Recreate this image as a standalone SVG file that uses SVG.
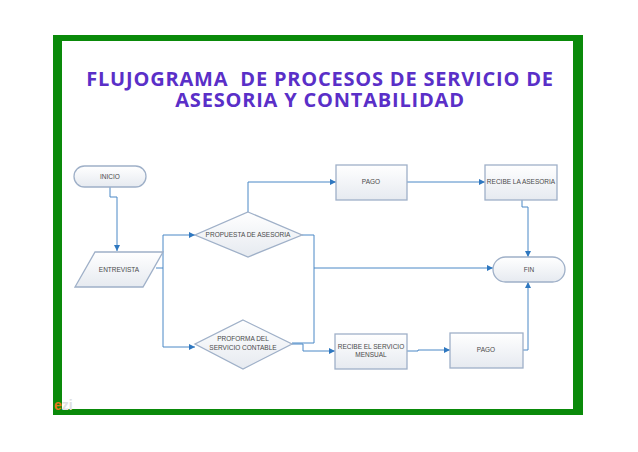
<svg xmlns="http://www.w3.org/2000/svg" width="638" height="452" viewBox="0 0 638 452">
<defs>
<linearGradient id="g" x1="0" y1="0" x2="0" y2="1"><stop offset="0" stop-color="#ffffff"/><stop offset="1" stop-color="#e6eaf0"/></linearGradient>
<marker id="a" viewBox="0 0 6 6" refX="6" refY="3" markerWidth="6" markerHeight="6" orient="auto" markerUnits="userSpaceOnUse"><path d="M0,0 L6,3 L0,6 Z" fill="#2f78c0"/></marker>
<style>
.n{fill:url(#g);stroke:#9fb0c8;stroke-width:1.3}
.t{font-family:"Liberation Sans",Arial,sans-serif;font-size:6.5px;fill:#4a4a4a;text-anchor:middle}
.c{fill:none;stroke:#4a88c6;stroke-width:1}
.h{font-family:"Open Sans","Liberation Sans",sans-serif;font-weight:bold;font-size:20px;letter-spacing:0.8px;fill:#5a2fc8;text-anchor:middle;white-space:pre}
</style>
</defs>
<rect width="638" height="452" fill="#ffffff"/>
<rect x="53" y="35" width="530" height="380" fill="#0a8a0a"/>
<rect x="62" y="41" width="511" height="368" fill="#ffffff"/>
<text class="h" x="320" y="86" xml:space="preserve">FLUJOGRAMA  DE PROCESOS DE SERVICIO DE</text>
<text class="h" x="320" y="107">ASESORIA Y CONTABILIDAD</text>

<g id="connectors">
<path class="c" d="M110,187 V197 H117 V251" marker-end="url(#a)"/>
<path class="c" d="M156,268 H163"/>
<path class="c" d="M163,235 V347"/>
<path class="c" d="M163,235 H195" marker-end="url(#a)"/>
<path class="c" d="M163,347 H195" marker-end="url(#a)"/>
<path class="c" d="M248,212 V182 H336" marker-end="url(#a)"/>
<path class="c" d="M302,235 H314 V343 H292"/>
<path class="c" d="M314,268 H493" marker-end="url(#a)"/>
<path class="c" d="M292,344 H303 V351 H335" marker-end="url(#a)"/>
<path class="c" d="M407,182 H485" marker-end="url(#a)"/>
<path class="c" d="M522,200 V207 H528 V257" marker-end="url(#a)"/>
<path class="c" d="M407,351 H418 V350 H450" marker-end="url(#a)"/>
<path class="c" d="M523,350 H528 V282" marker-end="url(#a)"/>
</g>

<g id="inicio"><rect class="n" x="74" y="166" width="72" height="21" rx="10.5"/><text class="t" x="110" y="178.5">INICIO</text></g>
<g id="entrevista"><path class="n" d="M95,252 H163 L143,287 H75 Z"/><text class="t" x="119" y="272">ENTREVISTA</text></g>
<g id="propuesta"><path class="n" d="M248,212 L302,235 L248,257 L195,235 Z"/><text class="t" x="248" y="237">PROPUESTA DE ASESORIA</text></g>
<g id="proforma"><path class="n" d="M243,320 L292,344 L243,369 L195,344 Z"/><text class="t" x="243" y="341">PROFORMA DEL</text><text class="t" x="243" y="350">SERVICIO CONTABLE</text></g>
<g id="pago1"><rect class="n" x="336" y="165" width="71" height="35"/><text class="t" x="371" y="184">PAGO</text></g>
<g id="recibe-asesoria"><rect class="n" x="485" y="165" width="72" height="35"/><text class="t" x="521" y="184">RECIBE LA ASESORIA</text></g>
<g id="fin"><rect class="n" x="493" y="257" width="72" height="25" rx="12.5"/><text class="t" x="529" y="271.5">FIN</text></g>
<g id="recibe-servicio"><rect class="n" x="335" y="334" width="72" height="35"/><text class="t" x="371" y="349">RECIBE EL SERVICIO</text><text class="t" x="371" y="357">MENSUAL</text></g>
<g id="pago2"><rect class="n" x="450" y="333" width="73" height="35"/><text class="t" x="486" y="352">PAGO</text></g>

<text x="54" y="410" font-family="'Liberation Sans',sans-serif" font-weight="bold" font-size="14" fill="#e0e0e0"><tspan fill="#e8761e">e</tspan>zi</text>
</svg>
